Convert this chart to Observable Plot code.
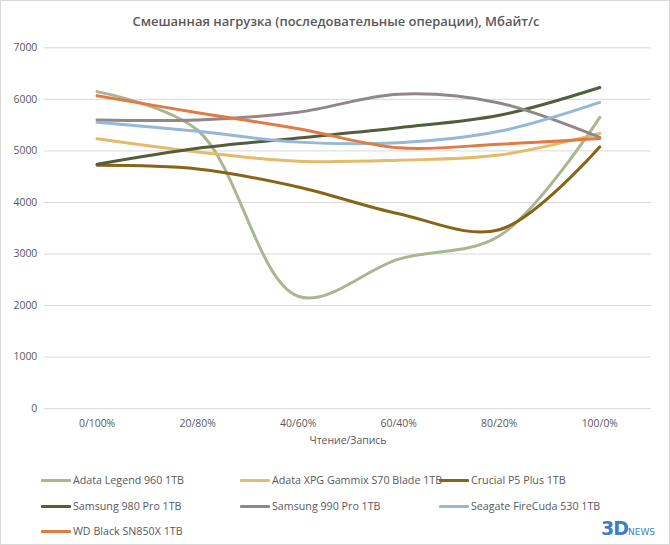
<!DOCTYPE html>
<html>
<head>
<meta charset="utf-8">
<script src="https://cdn.jsdelivr.net/npm/d3@7"></script>
<script src="https://cdn.jsdelivr.net/npm/@observablehq/plot@0.6"></script>
<style>
  html, body { margin: 0; padding: 0; background: #fff; }
  #wrap { position: relative; width: 670px; height: 545px; box-sizing: border-box; border: 1px solid #d9d9d9; font-family: "Open Sans", sans-serif; color: #595959; overflow: hidden; }
  #title { position: absolute; left: 0; top: 11px; width: 670px; text-align: center; font-size: 13px; font-weight: 600; color: #595959; }
  #chart { position: absolute; left: -1px; top: -1px; }
  #legend { position: absolute; left: 0; top: 0; }
  .item { position: absolute; font-size: 10.7px; color: #595959; white-space: nowrap; }
  .sw { position: absolute; width: 30px; height: 3px; border-radius: 1px; }
  #logo { position: absolute; left: 600px; top: 516px; font-family: "DejaVu Sans", sans-serif; color: #3b7fc4; font-weight: bold; font-size: 19px; letter-spacing: -1px; }
  #logo span { font-size: 9px; letter-spacing: 0; font-weight: normal; color: #3b7fc4; }
</style>
</head>
<body>
<div id="wrap">
  <div id="chart"></div>
  <div id="title">Смешанная нагрузка (последовательные операции), Мбайт/с</div>
  <div id="legend"></div>
  <div id="logo">3D<span>NEWS</span></div>
</div>
<script>
const categories = ["0/100%", "20/80%", "40/60%", "60/40%", "80/20%", "100/0%"];
const seriesNames = ["Adata Legend 960 1TB", "Adata XPG Gammix S70 Blade 1TB", "Crucial P5 Plus 1TB", "Samsung 980 Pro 1TB", "Samsung 990 Pro 1TB", "Seagate FireCuda 530 1TB", "WD Black SN850X 1TB"];
const seriesColors = ["#a9b68f", "#e3bb6a", "#876417", "#525d3c", "#908789", "#96b8d8", "#e07b45"];
const adataLegend = [6150, 5400, 2180, 2900, 3350, 5650];
const adataXPG = [5235, 4980, 4800, 4820, 4920, 5340];
const crucial = [4720, 4650, 4300, 3780, 3470, 5080];
const samsung980 = [4740, 5050, 5250, 5450, 5690, 6230];
const samsung990 = [5600, 5600, 5750, 6100, 5930, 5260];
const seagate = [5555, 5380, 5170, 5160, 5380, 5940];
const wdBlack = [6070, 5740, 5430, 5060, 5130, 5240];
const yTicks = [0, 1000, 2000, 3000, 4000, 5000, 6000, 7000];
const xLabel = "Чтение/Запись";

const allSeries = [adataLegend, adataXPG, crucial, samsung980, samsung990, seagate, wdBlack];
const data = [];
allSeries.forEach((vals, si) => {
  vals.forEach((v, i) => data.push({series: seriesNames[si], cat: categories[i], value: v}));
});

const chart = Plot.plot({
  width: 672,
  height: 460,
  marginLeft: 44,
  marginRight: 18,
  marginTop: 47.5,
  marginBottom: 50,
  style: {fontFamily: "Open Sans, sans-serif", fontSize: "10.5px", color: "#595959", background: "transparent"},
  x: {type: "point", domain: categories, padding: 0.5, label: null},
  y: {domain: [0, 7000], ticks: yTicks, label: null},
  color: {domain: seriesNames, range: seriesColors},
  marks: [
    Plot.gridY(yTicks, {stroke: "#d9d9d9", strokeOpacity: 1, strokeWidth: 1}),
    Plot.axisY(yTicks, {tickSize: 0, tickPadding: 7, label: null, tickFormat: d => String(d), fill: "#595959"}),
    Plot.axisX({tickSize: 0, tickPadding: 11, label: null, fill: "#595959"}),
    Plot.text([xLabel], {frameAnchor: "bottom", lineAnchor: "middle", dy: 32, fill: "#595959", fontSize: 10.5}),
    Plot.line(data, {x: "cat", y: "value", stroke: "series", z: "series", curve: "catmull-rom", strokeWidth: 3, strokeLinecap: "round", strokeLinejoin: "round"})
  ]
});
document.getElementById("chart").appendChild(chart);

// legend
const legend = document.getElementById("legend");
const colX = [40, 239, 438];
const rowY = [480, 506, 531];
seriesNames.forEach((name, i) => {
  const c = i % 3, r = Math.floor(i / 3);
  const sw = document.createElement("div");
  sw.className = "sw";
  sw.style.left = colX[c] + "px";
  sw.style.top = (rowY[r] - 2) + "px";
  sw.style.background = seriesColors[i];
  legend.appendChild(sw);
  const t = document.createElement("div");
  t.className = "item";
  t.style.left = (colX[c] + 32) + "px";
  t.style.top = (rowY[r] - 8) + "px";
  t.textContent = name;
  legend.appendChild(t);
});
</script>
</body>
</html>
